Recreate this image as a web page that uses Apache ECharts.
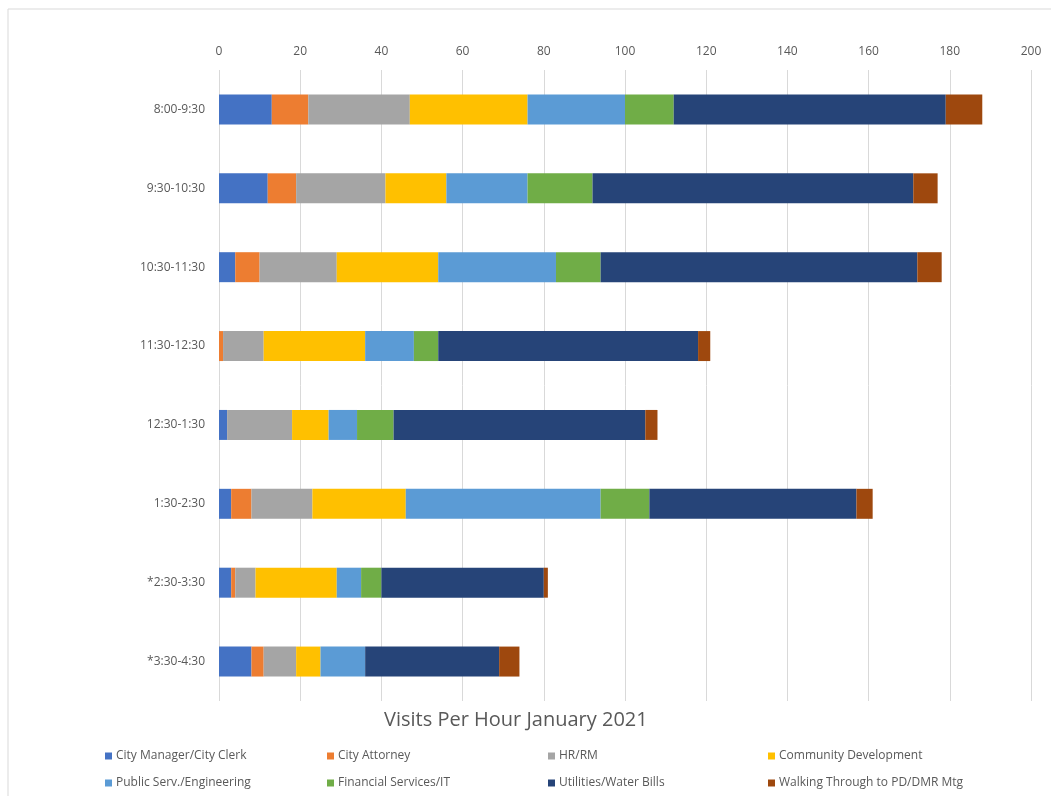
<!DOCTYPE html>
<html>
<head>
<meta charset="utf-8">
<script src="https://cdn.jsdelivr.net/npm/echarts@6/dist/echarts.min.js"></script>
<style>html,body{margin:0;padding:0;background:#fff;}#c{width:1051px;height:796px;}</style>
</head>
<body>
<div id="c"></div>
<script>
const categories = ['8:00-9:30','9:30-10:30','10:30-11:30','11:30-12:30','12:30-1:30','1:30-2:30','*2:30-3:30','*3:30-4:30'];
const cityManager = [13, 12, 4, 0, 2, 3, 3, 8];
const cityAttorney = [9, 7, 6, 1, 0, 5, 1, 3];
const hrRm = [25, 22, 19, 10, 16, 15, 5, 8];
const communityDev = [29, 15, 25, 25, 9, 23, 20, 6];
const publicServ = [24, 20, 29, 12, 7, 48, 6, 11];
const financial = [12, 16, 11, 6, 9, 12, 5, 0];
const utilities = [67, 79, 78, 64, 62, 51, 40, 33];
const walking = [9, 6, 6, 3, 3, 4, 1, 5];
const xTicks = [0, 20, 40, 60, 80, 100, 120, 140, 160, 180, 200];

const seriesDefs = [
  ['City Manager/City Clerk', cityManager, '#4472C4'],
  ['City Attorney', cityAttorney, '#ED7D31'],
  ['HR/RM', hrRm, '#A5A5A5'],
  ['Community Development', communityDev, '#FFC000'],
  ['Public Serv./Engineering', publicServ, '#5B9BD5'],
  ['Financial Services/IT', financial, '#70AD47'],
  ['Utilities/Water Bills', utilities, '#264478'],
  ['Walking Through to PD/DMR Mtg', walking, '#9E480E']
];

const legendPos = [[100,745],[322,745],[543,745],[763,745],[100,772],[322,772],[543,772],[763,772]];
const legends = seriesDefs.map((s, i) => ({
  data: [s[0]], left: legendPos[i][0], top: legendPos[i][1],
  itemWidth: 7, itemHeight: 7, itemGap: 4, icon: 'rect',
  textStyle: {color: '#595959', fontSize: 12, fontFamily: 'Open Sans', padding: [0,0,0,-1]},
  selectedMode: false
}));

const chart = echarts.init(document.getElementById('c'));
chart.setOption({
  animation: false,
  backgroundColor: '#fff',
  title: {
    text: 'Visits Per Hour January 2021', left: 379, top: 705,
    textStyle: {color: '#595959', fontSize: 20, fontWeight: 'normal', fontFamily: 'Open Sans'}
  },
  legend: legends,
  grid: {left: 219, right: 20, top: 70, bottom: 95},
  xAxis: {
    type: 'value', position: 'top', min: 0, max: 200, interval: 20,
    axisLine: {show: false}, axisTick: {show: false},
    axisLabel: {color: '#595959', fontSize: 12, fontFamily: 'Open Sans', margin: 12,
      formatter: v => xTicks.includes(v) ? String(v) : ''},
    splitLine: {lineStyle: {color: '#D9D9D9', width: 1}}
  },
  yAxis: {
    type: 'category', data: categories, inverse: true,
    axisLine: {show: false}, axisTick: {show: false},
    axisLabel: {color: '#595959', fontSize: 12, fontFamily: 'Open Sans', margin: 14}
  },
  graphic: [{
    type: 'rect', shape: {x: 8, y: 9, width: 1100, height: 900},
    style: {fill: 'none', stroke: '#D9D9D9', lineWidth: 1}, silent: true
  }],
  series: seriesDefs.map(s => ({
    name: s[0], type: 'bar', stack: 'total', data: s[1],
    barWidth: '38%', itemStyle: {color: s[2]}
  }))
});
</script>
</body>
</html>
